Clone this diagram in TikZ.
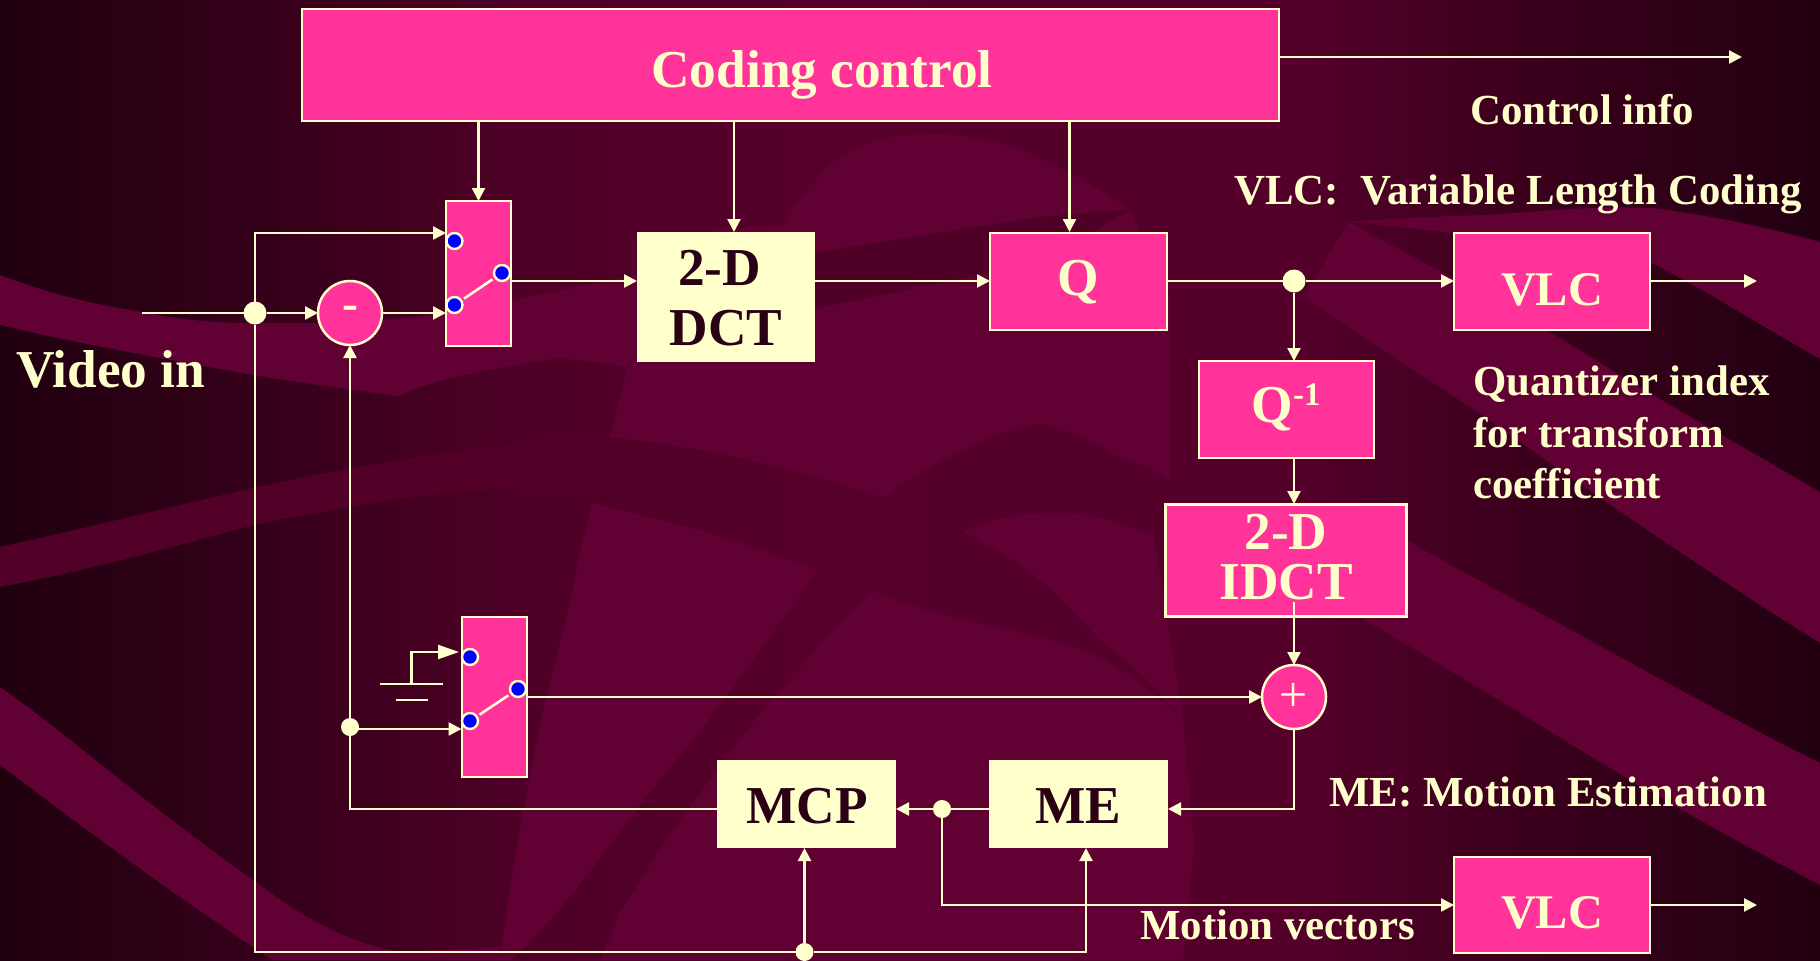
\documentclass[tikz,border=0pt]{standalone}
\usepackage{fontspec}
\setmainfont{Liberation Serif}
\usetikzlibrary{arrows.meta,calc}
\definecolor{cream}{HTML}{FFFFCC}
\definecolor{hotpink}{HTML}{FF3399}
\definecolor{inkdark}{HTML}{2A0015}
\definecolor{bgA}{HTML}{20000F}
\definecolor{bgB}{HTML}{340019}
\definecolor{bgC}{HTML}{4E0026}
\definecolor{bgD}{HTML}{56002A}
\definecolor{bgE}{HTML}{54002A}
\definecolor{bgF}{HTML}{3E001E}
\definecolor{bgG}{HTML}{220010}
\definecolor{band}{HTML}{600033}
\definecolor{bandlow}{HTML}{530029}
\definecolor{stripe}{HTML}{4F0027}
\pgfdeclarehorizontalshading{bgshade}{100bp}{color(0bp)=(bgA); color(25bp)=(bgA); color(31.9bp)=(bgB); color(39.3bp)=(bgC); color(47bp)=(bgD); color(60.7bp)=(bgE); color(65.9bp)=(bgF); color(75bp)=(bgG); color(100bp)=(bgG)}
\tikzset{
  x=1bp,y=-1bp,
  pinkbox/.style={rectangle,draw=cream,fill=hotpink,line width=2.5bp,inner sep=0pt,outer sep=0pt,anchor=north west},
  creambox/.style={rectangle,draw=none,fill=cream,inner sep=0pt,outer sep=0pt,anchor=north west},
  wire/.style={draw=cream,line width=2.3bp},
  arr/.style={wire,-{Triangle[length=13bp,width=13bp]}},
  bigarr/.style={wire,-{Triangle[length=21bp,width=14bp]}},
  arm/.style={wire,line width=2.6bp,shorten <=3.5bp,shorten >=3.5bp},
  junction/.style={circle,fill=cream,inner sep=0pt,outer sep=0pt,minimum size=#1},
  contact/.style={circle,fill=blue,draw=cream,line width=2.4bp,inner sep=0pt,outer sep=0pt,minimum size=16bp},
  sumnode/.style={circle,draw=cream,fill=hotpink,line width=2.5bp,inner sep=0pt,outer sep=0pt,minimum size=64bp,text=cream},
  big/.style={font=\fontsize{53.5}{53.5}\selectfont\bfseries,anchor=base,inner sep=0pt},
  lighttext/.style={big,text=cream},
  darktext/.style={big,text=inkdark},
  vlctext/.style={lighttext,font=\fontsize{48.5}{48.5}\selectfont\bfseries},
  note/.style={font=\fontsize{43}{43}\selectfont\bfseries,text=cream,anchor=base west,inner sep=0pt},
  bandfill/.style={fill=band},
}
\begin{document}
\begin{tikzpicture}
\useasboundingbox (0,0) rectangle (1820,960);
% background
\shade[shading=bgshade] (0,0) rectangle (1820,960);
\begin{scope}
\clip (0,0) rectangle (1820,960);
% rising band, left
\fill[bandlow] (0,547) .. controls (90,527) and (170,507) .. (253,488) .. controls (350,467) and (450,450) .. (620,430) -- (620,490) .. controls (560,488) and (500,488) .. (450,493) .. controls (380,500) and (320,512) .. (253,525) .. controls (170,548) and (90,570) .. (0,587) -- cycle;
% upper left swoosh
\fill[bandfill] (0,275) .. controls (50,294) and (95,305) .. (143,312) .. controls (180,320) and (215,323) .. (253,323) -- (317,323) .. controls (370,322) and (410,318) .. (445,313) .. controls (490,305) and (525,297) .. (553,292) -- (660,270) -- (660,370) -- (560,358) .. controls (510,365) and (460,375) .. (433,383) .. controls (420,387) and (405,392) .. (400,397) .. controls (345,388) and (300,383) .. (253,375) .. controls (160,358) and (75,343) .. (0,325) -- cycle;
% lower left band
\fill[bandfill] (0,687) .. controls (60,728) and (140,800) .. (253,880) .. controls (280,900) and (305,918) .. (333,930) .. controls (355,942) and (380,948) .. (400,952) -- (500,947) -- (500,960) -- (273,960) .. controls (265,955) and (258,950) .. (253,947) .. controls (160,885) and (80,825) .. (0,765) -- cycle;
% central wedge
\fill[bandfill] (592,503) .. controls (660,518) and (740,540) .. (818,570) .. controls (790,610) and (760,650) .. (733,687) .. controls (710,720) and (685,750) .. (660,780) .. controls (630,815) and (560,920) .. (510,960) -- (500,960) .. controls (510,880) and (525,800) .. (540,723) .. controls (555,660) and (570,610) .. (580,552) -- cycle;
% upper central field
\fill[bandfill] (610,438) -- (637,330) -- (700,232) -- (780,227) .. controls (800,200) and (820,167) .. (850,150) .. controls (900,125) and (980,130) .. (1040,158) .. controls (1075,175) and (1105,192) .. (1130,210) -- (1170,300) -- (1170,480) .. controls (1145,465) and (1130,460) .. (1115,455) .. controls (1090,440) and (1065,428) .. (1040,423) .. controls (980,435) and (930,465) .. (883,498) .. controls (800,470) and (700,445) .. (610,438) -- cycle;
\fill[stripe] (780,258) -- (1040,217) -- (1130,210) -- (1040,262) -- (940,283) -- (780,316) -- cycle;
% lower central field
\fill[bandfill] (873,592) -- (920,608) .. controls (980,625) and (1040,635) .. (1084,650) .. controls (1120,665) and (1150,690) .. (1183,720) -- (1194,847) -- (1183,960) -- (600,960) -- (620,913) .. controls (640,880) and (665,840) .. (690,807) .. controls (720,765) and (750,725) .. (783,687) .. controls (810,655) and (840,620) .. (873,592) -- cycle;
\fill[bandfill] (963,532) .. controls (985,520) and (1020,513) .. (1055,513) .. controls (1090,513) and (1125,522) .. (1154,537) -- (1183,720) .. controls (1150,680) and (1125,660) .. (1100,640) .. controls (1075,615) and (1060,595) .. (1040,580) .. controls (1015,560) and (990,545) .. (963,532) -- cycle;
% right swooshes
\fill[bandfill] (1348,222) .. controls (1400,218) and (1440,216) .. (1488,215) .. controls (1550,210) and (1600,206) .. (1652,208) .. controls (1710,215) and (1770,228) .. (1820,242) -- (1820,359) .. controls (1760,325) and (1705,290) .. (1652,263) .. controls (1600,250) and (1550,245) .. (1500,240) .. controls (1450,232) and (1400,227) .. (1348,222) -- cycle;
\fill[bandfill] (1348,222) .. controls (1420,260) and (1490,298) .. (1557,336) .. controls (1650,395) and (1740,445) .. (1820,492) -- (1820,643) .. controls (1770,612) and (1725,582) .. (1677,550) .. controls (1610,505) and (1545,460) .. (1478,412) .. controls (1420,375) and (1360,335) .. (1304,297) -- cycle;
\fill[bandfill] (1408,541) .. controls (1450,565) and (1500,592) .. (1553,620) .. controls (1640,668) and (1730,718) .. (1820,763) -- (1820,885) .. controls (1730,838) and (1640,788) .. (1553,733) .. controls (1490,695) and (1425,655) .. (1363,619) -- cycle;
\end{scope}
% coding control
\node[pinkbox,minimum width=977bp,minimum height=112bp] (coding) at (302,9) {};
\node[lighttext] (codingtxt) at (822,87) {Coding control};
% switch 1
\node[pinkbox,minimum width=65bp,minimum height=145bp] (swa) at (446,201) {};
\node[contact] (swat) at (454.5,241) {};
\node[contact] (swab) at (454.5,305) {};
\node[contact] (swar) at (502,273) {};
% switch 2
\node[pinkbox,minimum width=65bp,minimum height=160bp] (swb) at (462,617) {};
\node[contact] (swbt) at (470,657) {};
\node[contact] (swbb) at (470,721) {};
\node[contact] (swbr) at (518,689) {};
% process boxes
\node[creambox,minimum width=178bp,minimum height=130bp] (dct) at (637,232) {};
\node[darktext] (dcta) at (719.5,285) {2-D};
\node[darktext] (dctb) at (726,345) {DCT};
\node[pinkbox,minimum width=177bp,minimum height=97bp] (q) at (990,233) {};
\node[lighttext] (qtxt) at (1078,295) {Q};
\node[pinkbox,minimum width=196bp,minimum height=97bp] (vlca) at (1454,233) {};
\node[vlctext] (vlcatxt) at (1552,305) {VLC};
\node[pinkbox,minimum width=175bp,minimum height=97bp] (qi) at (1199,361) {};
\node[lighttext] (qitxt) at (1286,422) {Q\raisebox{17bp}{\fontsize{33}{33}\selectfont -1}};
\node[pinkbox,minimum width=241bp,minimum height=112bp] (idct) at (1165.5,504.5) {};
\node[lighttext] (idcta) at (1286,549) {2-D};
\node[lighttext] (idctb) at (1286,599) {IDCT};
\node[creambox,minimum width=179bp,minimum height=88bp] (me) at (989,760) {};
\node[darktext] (metxt) at (1078,823) {ME};
\node[creambox,minimum width=179bp,minimum height=88bp] (mcp) at (717,760) {};
\node[darktext] (mcptxt) at (807,823) {MCP};
\node[pinkbox,minimum width=196bp,minimum height=96bp] (vlcb) at (1454,857) {};
\node[vlctext] (vlcbtxt) at (1552,928) {VLC};
% summing nodes
\node[sumnode,font=\fontsize{48}{48}\selectfont\bfseries] (minus) at (350,313) {-};
\node[sumnode,font=\fontsize{50}{50}\selectfont] (plus) at (1294,697) {+};
% junctions
\node[junction=23bp] (jin) at (255,313) {};
\node[junction=23bp] (jq) at (1294,281) {};
\node[junction=18bp] (jfb) at (350,727) {};
\node[junction=18bp] (jme) at (942,809) {};
\node[junction=18bp] (jbot) at (804.5,952) {};
% helper coordinates
\coordinate (vin) at (142,313);
\coordinate (swain) at (446,233);
\coordinate (swaminus) at (446,313);
\coordinate (swaout) at (511,281);
\coordinate (dctin) at (637,281);
\coordinate (dcttop) at (734,232);
\coordinate (qtop) at (1069.5,232);
\coordinate (dctout) at (815,281);
\coordinate (qin) at (990,281);
\coordinate (qout) at (1167,281);
\coordinate (vlcain) at (1454,281);
\coordinate (vlcaout) at (1650,281);
\coordinate (vlcaend) at (1757,281);
\coordinate (codingout) at (1279,57);
\coordinate (codingend) at (1742,57);
\coordinate (qitop) at (1294,361);
\coordinate (qibot) at (1294,458);
\coordinate (idcttop) at (1294,504);
\coordinate (idctout) at (1294,602);
\coordinate (swbout) at (527,697);
\coordinate (swbin) at (461.5,729);
\coordinate (gndtop) at (411.5,652);
\coordinate (gndin) at (459,652);
\coordinate (gnda) at (380,684);
\coordinate (gndb) at (443,684);
\coordinate (gndc) at (396,700);
\coordinate (gndd) at (428,700);
\coordinate (gndm) at (411.5,684);
\coordinate (meright) at (1168,809);
\coordinate (meleft) at (989,809);
\coordinate (mcpright) at (896,809);
\coordinate (mcpleft) at (717,809);
\coordinate (mebot) at (1086,848);
\coordinate (vlcbin) at (1454,905);
\coordinate (vlcbout) at (1650,905);
\coordinate (vlcbend) at (1757,905);
% connectors
\draw[wire] (vin) -- (jin);
\draw[arr] (jin) -- (minus);
\draw[arr] (minus) -- (swaminus);
\draw[arr] (jin) |- (swain);
\draw[arr] (swa.north |- coding.south) -- (swa.north);
\draw[arr] (dcttop |- coding.south) -- (dcttop);
\draw[arr] (qtop |- coding.south) -- (qtop);
\draw[arr] (codingout) -- (codingend);
\draw[arm] (swab) -- (swar);
\draw[arr] (swaout) -- (dctin);
\draw[arr] (dctout) -- (qin);
\draw[wire] (qout) -- (jq);
\draw[arr] (jq) -- (vlcain);
\draw[arr] (vlcaout) -- (vlcaend);
\draw[arr] (jq) -- (qitop);
\draw[arr] (qibot) -- (idcttop);
\draw[arr] (idctout) -- (plus);
\draw[arr] (plus) |- (meright);
\draw[wire] (meleft) -- (jme);
\draw[arr] (jme) -- (mcpright);
\draw[wire] (mcpleft) -| (jfb);
\draw[arr] (jfb) -- (minus);
\draw[arr] (jfb |- swbin) -- (swbin);
\draw[arm] (swbb) -- (swbr);
\draw[arr] (swbout) -- (plus);
\draw[bigarr] (gndm) |- (gndin);
\draw[wire] (gnda) -- (gndb);
\draw[wire] (gndc) -- (gndd);
\draw[wire] (jin) |- (jbot);
\draw[arr] (jbot) -- (mcp.south -| jbot);
\draw[arr] (jbot) -| (mebot);
\draw[arr] (jme) |- (vlcbin);
\draw[arr] (vlcbout) -- (vlcbend);
% labels
\node[lighttext,anchor=base west] (videoin) at (16,387) {Video in};
\node[note] (ctrl) at (1470,124) {Control info};
\node[note] (vlcnote) at (1234,204) {VLC:~~Variable Length Coding};
\node[note] (quanta) at (1473,395) {Quantizer index};
\node[note] (quantb) at (1473,447) {for transform};
\node[note] (quantc) at (1473,498) {coefficient};
\node[note] (menote) at (1329,806) {ME: Motion Estimation};
\node[note] (mvnote) at (1140,939) {Motion vectors};
\end{tikzpicture}
\end{document}
